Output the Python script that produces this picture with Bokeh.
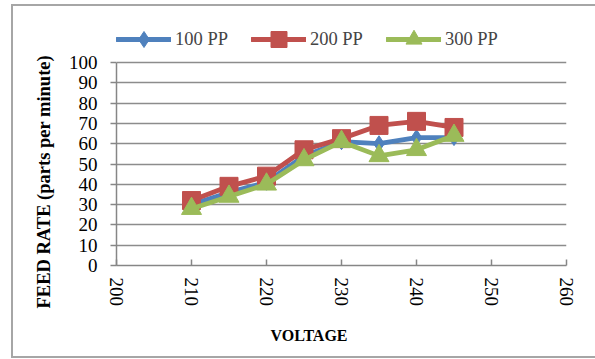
from bokeh.plotting import figure
from bokeh.models import Legend, LegendItem, Range1d, Title
from bokeh.embed import file_html
from bokeh.resources import INLINE

voltage = [210, 215, 220, 225, 230, 235, 240, 245]
pp100 = [30, 36, 41, 54, 61, 60, 63, 63]
pp200 = [32, 39, 44, 57, 62.5, 69, 71, 68]
pp300 = [28, 34, 40, 52, 61, 54, 57, 64]
series_names = ["100 PP", "200 PP", "300 PP"]
x_ticks = [200, 210, 220, 230, 240, 250, 260]
y_ticks = [0, 10, 20, 30, 40, 50, 60, 70, 80, 90, 100]

FONT = "Liberation Serif"
BORDER = "#a6a6a6"

border_css = {
    "box-shadow": (
        "inset 11px 0 0 0 white, inset 0 4px 0 0 white, inset 0 -1px 0 0 white, "
        f"inset 13px 0 0 0 {BORDER}, inset 0 6px 0 0 {BORDER}, inset 0 -3px 0 0 {BORDER}"
    ),
}

# plot area spans 0..100 between y=62 and y=265; frame extended upward to hold the legend
p = figure(width=595, height=359, output_backend="svg", toolbar_location=None,
           x_range=Range1d(200, 260), y_range=Range1d(0, 100 + (62 - 15) / 2.03),
           min_border_left=116, min_border_right=29, min_border_top=15, min_border_bottom=94,
           styles=border_css)

p.background_fill_color = "white"
p.border_fill_alpha = 0
p.outline_line_color = None

p.xaxis.ticker = x_ticks
p.yaxis.ticker = y_ticks
p.yaxis.bounds = (0, 100)
for ax in (p.xaxis, p.yaxis):
    ax.axis_line_color = "#868686"
    ax.axis_line_width = 1.5
    ax.major_tick_line_color = "#868686"
    ax.major_tick_line_width = 1.5
    ax.minor_tick_line_color = None
    ax.major_label_text_font = FONT
    ax.major_label_text_font_size = "19px"
    ax.major_label_text_color = "black"
p.xaxis.major_tick_in = 6
p.xaxis.major_tick_out = 0
p.yaxis.major_tick_in = 0
p.yaxis.major_tick_out = 6
p.xaxis.major_label_orientation = "vertical"
p.xaxis.major_label_standoff = 12
p.yaxis.major_label_standoff = 13

p.add_layout(Title(text="FEED RATE (parts per minute)", align="left", offset=-43,
                   standoff=24, text_font=FONT, text_font_style="bold",
                   text_font_size="18.5px", text_color="black"), "left")
p.add_layout(Title(text="VOLTAGE", align="left", offset=154,
                   standoff=30, text_font=FONT, text_font_style="bold",
                   text_font_size="16px", text_color="black"), "below")

p.xgrid.visible = False
p.ygrid.grid_line_color = "#8c8c8c"
p.ygrid.grid_line_width = 1.5

colors = ["#4F81BD", "#C0504D", "#9BBB59"]
markers = ["diamond", "square", "triangle"]
sizes = [16, 18, 20]
items = []
for ys, c, m, s, name in zip([pp100, pp200, pp300], colors, markers, sizes, series_names):
    ln = p.line(voltage, ys, line_color=c, line_width=4.8, line_join="round", line_cap="round")
    sc = p.scatter(voltage, ys, marker=m, size=s, fill_color=c, line_color=c)
    items.append(LegendItem(label=name, renderers=[ln, sc]))

legend = Legend(items=items, location=(0, 265 - 59), orientation="horizontal",
                glyph_width=55, glyph_height=40, label_height=40,
                label_standoff=4, spacing=23, padding=0, margin=0,
                label_text_font=FONT, label_text_font_size="18.5px",
                border_line_alpha=0, background_fill_alpha=0)
p.add_layout(legend, "center")

open("out.html", "w").write(file_html(p, INLINE))
